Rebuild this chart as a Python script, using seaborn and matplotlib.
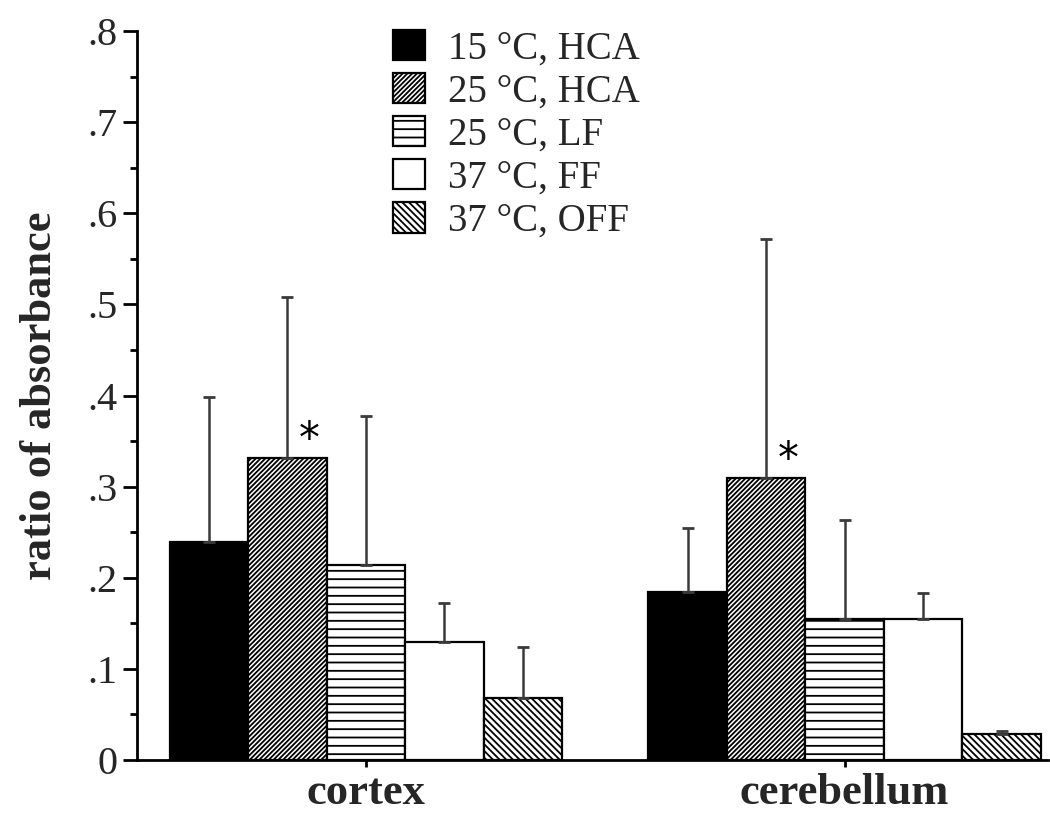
import pandas as pd
import matplotlib
matplotlib.use("Agg")
import matplotlib.pyplot as plt
from matplotlib.ticker import MultipleLocator, FixedLocator, FixedFormatter
import seaborn as sns

regions = ["cortex", "cerebellum"]
groups = ["15 °C, HCA", "25 °C, HCA", "25 °C, LF", "37 °C, FF", "37 °C, OFF"]

# mean ratio of absorbance per group, one list per region
cortex_vals = [0.239, 0.331, 0.214, 0.130, 0.068]
cerebellum_vals = [0.184, 0.309, 0.155, 0.155, 0.028]

# upper error bar ends (mean + SD)
cortex_err_top = [0.398, 0.508, 0.377, 0.172, 0.124]
cerebellum_err_top = [0.255, 0.572, 0.263, 0.183, 0.032]

significant = ["25 °C, HCA"]

y_ticks = [0, 0.1, 0.2, 0.3, 0.4, 0.5, 0.6, 0.7, 0.8]
y_tick_labels = ["0", ".1", ".2", ".3", ".4", ".5", ".6", ".7", ".8"]

rows = []
for reg, vals, tops in [("cortex", cortex_vals, cortex_err_top),
                        ("cerebellum", cerebellum_vals, cerebellum_err_top)]:
    for g, v, t in zip(groups, vals, tops):
        rows.append({"region": reg, "group": g, "value": v, "top": t})
df = pd.DataFrame(rows)

sns.set_theme(style="white")
plt.rcParams["font.family"] = ["Liberation Serif", "DejaVu Serif"]
plt.rcParams["hatch.linewidth"] = 1.3

fig = plt.figure(figsize=(10.5, 8.16), dpi=100)
ax = fig.add_axes([137 / 1050, 56 / 816, 911 / 1050, 729 / 816])

palette = ["black", "white", "white", "white", "white"]
hatches = [None, "///////", "--", None, "\\\\\\\\\\"]

sns.barplot(data=df, x="region", y="value", hue="group", order=regions,
            hue_order=groups, palette=palette, edgecolor="black", linewidth=1.6,
            width=0.82, errorbar=None, legend=False, saturation=1, ax=ax)

for cont, h, g in zip(ax.containers, hatches, groups):
    sub = df[df["group"] == g].set_index("region").loc[regions]
    xs = []
    for bar in cont:
        if h:
            bar.set_hatch(h)
        xs.append(bar.get_x() + bar.get_width() / 2)
    up = (sub["top"] - sub["value"]).values
    low = [0] * len(up)
    ax.errorbar(xs, sub["value"].values, yerr=[low, up], fmt="none",
                ecolor="#3a3a3a", elinewidth=1.8, capsize=4, capthick=2, zorder=1)
    if g in significant:
        for x, t in zip(xs, sub["value"].values):
            ax.annotate("*", (x, t), xytext=(16, -2), textcoords="offset points",
                        ha="center", va="bottom", fontsize=30,
                        family="DejaVu Sans", color="black")

ax.set_xlim(-0.478, 1.425)
ax.set_ylim(0, 0.8)
ax.yaxis.set_major_locator(FixedLocator(y_ticks))
ax.yaxis.set_major_formatter(FixedFormatter(y_tick_labels))
ax.yaxis.set_minor_locator(MultipleLocator(0.05))

sns.despine(ax=ax)
for s in ["left", "bottom"]:
    ax.spines[s].set_color("black")
    ax.spines[s].set_linewidth(2)

ax.tick_params(axis="y", which="major", direction="out", length=10, width=2,
               color="black", labelsize=29, pad=4, left=True)
ax.tick_params(axis="y", which="minor", direction="out", length=5, width=2,
               color="black", left=True)
ax.tick_params(axis="x", direction="out", length=5, width=2, color="black",
               bottom=True, labelsize=32, pad=4)
for lab in ax.get_xticklabels():
    lab.set_fontweight("bold")

ax.set_xlabel("")
ax.set_ylabel("ratio of absorbance", fontsize=32, fontweight="bold", labelpad=20)

ax.legend(ax.containers, groups, loc="upper left",
          bbox_to_anchor=(393 / 1050, 1 - 30 / 816), bbox_transform=fig.transFigure,
          frameon=False, fontsize=28, handlelength=0.82, handleheight=0.82,
          handletextpad=0.6, labelspacing=0.14, borderpad=0, borderaxespad=0)

fig.savefig("out.png", dpi=100)
